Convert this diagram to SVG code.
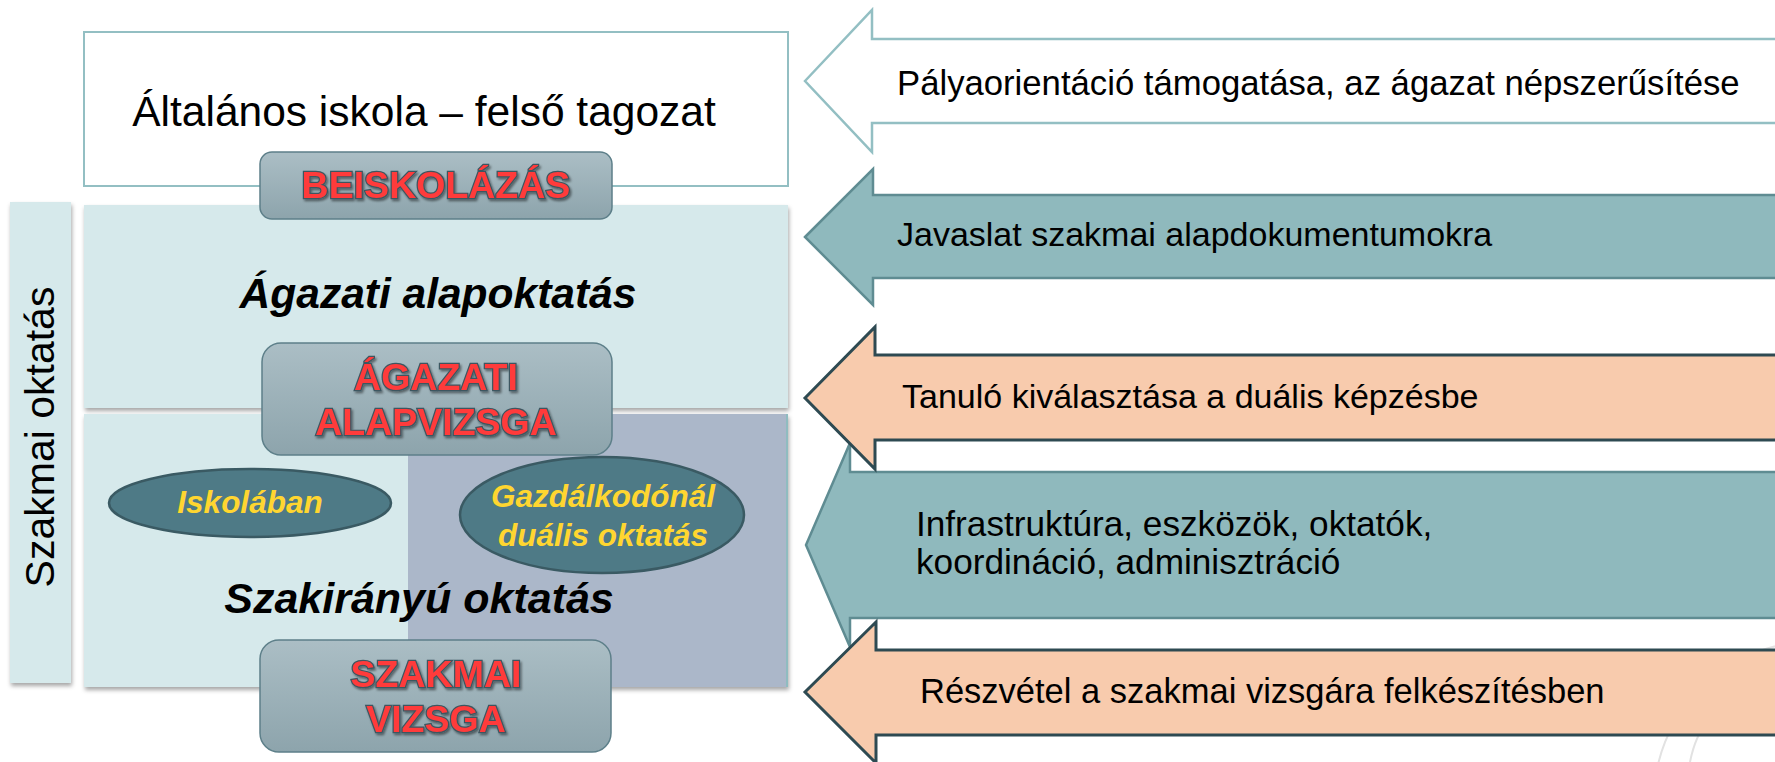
<svg xmlns="http://www.w3.org/2000/svg" width="1775" height="762" viewBox="0 0 1775 762">
<defs>
<linearGradient id="btnGrad" x1="0" y1="0" x2="0" y2="1">
<stop offset="0" stop-color="#abbec5"/>
<stop offset="1" stop-color="#8da4ac"/>
</linearGradient>
<filter id="boxShadow" x="-10%" y="-10%" width="120%" height="120%">
<feDropShadow dx="1" dy="3" stdDeviation="2" flood-color="#000" flood-opacity="0.35"/>
</filter>
<filter id="txtShadow" x="-10%" y="-20%" width="120%" height="150%">
<feDropShadow dx="1.5" dy="2" stdDeviation="1.2" flood-color="#000" flood-opacity="0.45"/>
</filter>
<style>
.sans{font-family:"Liberation Sans",Arial,sans-serif;}
.box{fill:#d6e9eb;filter:url(#boxShadow);}
.btn{fill:url(#btnGrad);stroke:#5d7f89;stroke-width:1.5;}
.btnTxt{font-family:"Liberation Sans",Arial,sans-serif;font-weight:bold;font-size:37.5px;fill:#ff3b3b;stroke:#3c5660;stroke-width:2.4;paint-order:stroke;text-anchor:middle;filter:url(#txtShadow);}
.big{font-family:"Liberation Sans",Arial,sans-serif;font-weight:bold;font-style:italic;font-size:42.5px;fill:#000;text-anchor:middle;}
.ell{fill:#4e7a86;stroke:#3a5a63;stroke-width:2.5;}
.ellTxt{font-family:"Liberation Sans",Arial,sans-serif;font-weight:bold;font-style:italic;font-size:31.5px;fill:#ffd630;text-anchor:middle;}
.arrTxt{font-family:"Liberation Sans",Arial,sans-serif;font-size:34px;fill:#000;}
.arrWhite{fill:#ffffff;stroke:#93bfc3;stroke-width:2.5;}
.arrTeal{fill:#8fb9bd;stroke:#5f8c92;stroke-width:2.5;}
.arrPeach{fill:#f8cbad;stroke:#2e4a52;stroke-width:3;}
.wm{fill:none;stroke:#e2e2e2;stroke-width:2;}
</style>
</defs>
<rect width="1775" height="762" fill="#ffffff"/>

<g id="watermark">
<circle class="wm" cx="1812" cy="800" r="158"/>
<path class="wm" d="M1690,762 C1694,742 1700,730 1708,722"/>
</g>

<g id="node-top">
<rect x="84" y="32" width="704" height="154" fill="#ffffff" stroke="#93bfc3" stroke-width="2"/>
<text class="sans" x="424" y="126" style="font-size:42.5px" text-anchor="middle" fill="#000">Általános iskola – felső tagozat</text>
</g>

<g id="node-agazati-alap">
<rect class="box" x="84" y="205" width="704" height="203"/>
<text class="big" x="438" y="308">Ágazati alapoktatás</text>
</g>

<g id="node-szakiranyu">
<rect class="box" x="84" y="414" width="704" height="273"/>
<rect x="408" y="414" width="380" height="273" fill="#abb7c9"/>
<line x1="787" y1="414" x2="787" y2="687" stroke="#8fbcc0" stroke-width="2"/>
<text class="big" x="419" y="613" style="font-size:43px">Szakirányú oktatás</text>
</g>

<g id="node-szakmai-oktatas">
<rect class="box" x="10" y="202" width="61" height="481"/>
<text class="sans" x="0" y="0" style="font-size:41px" text-anchor="middle" fill="#000" transform="translate(54,437) rotate(-90)">Szakmai oktatás</text>
</g>

<g id="node-iskolaban">
<ellipse class="ell" cx="250" cy="503" rx="141" ry="34"/>
<text class="ellTxt" x="250" y="513">Iskolában</text>
</g>

<g id="node-gazdalkodonal">
<ellipse class="ell" cx="602" cy="515" rx="142" ry="58"/>
<text class="ellTxt" x="603" y="507">Gazdálkodónál</text>
<text class="ellTxt" x="603" y="546">duális oktatás</text>
</g>

<g id="node-beiskolazas">
<rect class="btn" x="260" y="152" width="352" height="67" rx="12"/>
<text class="btnTxt" x="436" y="198">BEISKOLÁZÁS</text>
</g>

<g id="node-agazati-alapvizsga">
<rect class="btn" x="262" y="343" width="350" height="112" rx="19"/>
<text class="btnTxt" x="436" y="390">ÁGAZATI</text>
<text class="btnTxt" x="436" y="435">ALAPVIZSGA</text>
</g>

<g id="node-szakmai-vizsga">
<rect class="btn" x="260" y="640" width="351" height="112" rx="19"/>
<text class="btnTxt" x="436" y="687">SZAKMAI</text>
<text class="btnTxt" x="436" y="732">VIZSGA</text>
</g>

<g id="connectors">
<g id="arrow-palyaorientacio">
<polygon class="arrWhite" points="805,81 872,10 872,39 1780,39 1780,123 872,123 872,152"/>
<text class="arrTxt" x="897" y="95" style="font-size:34.7px">Pályaorientáció támogatása, az ágazat népszerűsítése</text>
</g>
<g id="arrow-javaslat">
<polygon class="arrTeal" points="805,237 873,169 873,195 1780,195 1780,278 873,278 873,305"/>
<text class="arrTxt" x="897" y="246">Javaslat szakmai alapdokumentumokra</text>
</g>
<g id="arrow-infrastruktura">
<polygon class="arrTeal" points="806,545 850,443 850,472 1780,472 1780,618 850,618 850,647"/>
<text class="arrTxt" x="916" y="536" style="font-size:35.2px">Infrastruktúra, eszközök, oktatók,</text>
<text class="arrTxt" x="916" y="574" style="font-size:35.2px">koordináció, adminisztráció</text>
</g>
<g id="arrow-tanulo">
<polygon class="arrPeach" points="805,398 875,327 875,355 1780,355 1780,440 875,440 875,469"/>
<text class="arrTxt" x="902" y="408">Tanuló kiválasztása a duális képzésbe</text>
</g>
<g id="arrow-reszvetel">
<polygon class="arrPeach" points="805,692 876,622 876,650 1780,650 1780,735 876,735 876,763"/>
<text class="arrTxt" x="920" y="703" style="font-size:34.5px">Részvétel a szakmai vizsgára felkészítésben</text>
</g>
</g>
</svg>
